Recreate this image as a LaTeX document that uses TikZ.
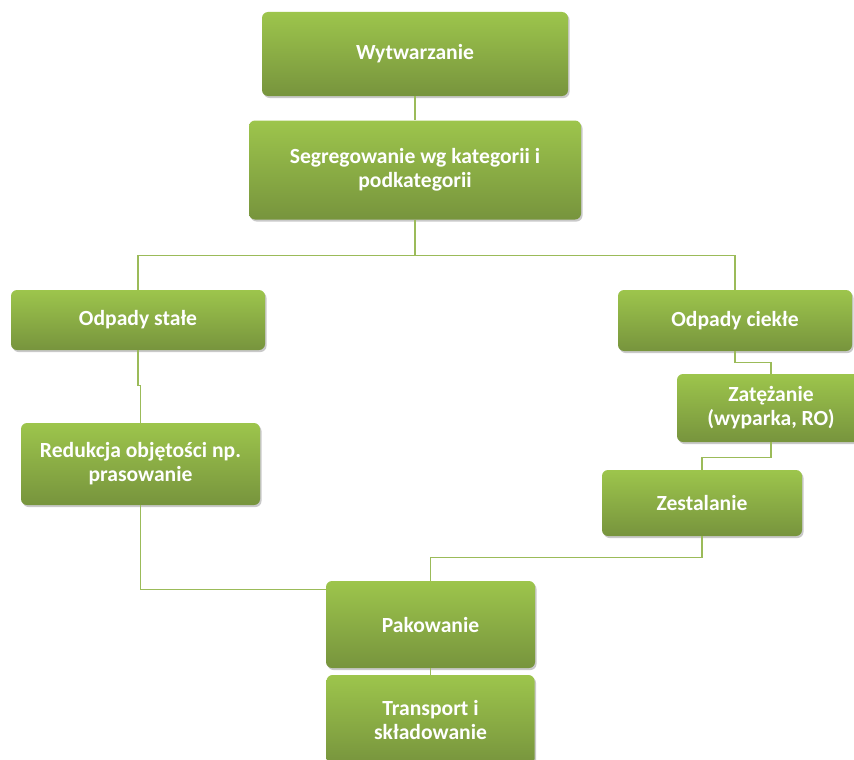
\documentclass[tikz,border=0pt]{standalone}
\usepackage{fontspec}
\setmainfont{Carlito}
\usetikzlibrary{shadows,calc}
\definecolor{boxtop}{HTML}{9DC54C}
\definecolor{boxbot}{HTML}{77943D}
\definecolor{linecol}{HTML}{9BBB59}
\tikzset{
  box/.style={rectangle, rounded corners=6pt, top color=boxtop, bottom color=boxbot,
    draw=none, text=white, align=center, inner sep=2pt,
    font=\fontsize{21.6}{24}\selectfont\bfseries,
    drop shadow={shadow xshift=1.5pt, shadow yshift=-2pt, opacity=0.35, fill=black!60}},
  conn/.style={draw=linecol, line width=1.3pt}
}
\begin{document}
\begin{tikzpicture}[x=1pt,y=-1pt]
\useasboundingbox (0,0) rectangle (854,760);
\fill[white] (0,0) rectangle (854,760);
\node[box, minimum width=306pt, minimum height=84pt] (w) at (415,54) {Wytwarzanie};
\node[box, minimum width=332pt, minimum height=99pt] (s) at (415,170) {Segregowanie wg kategorii i\\podkategorii};
\node[box, minimum width=254pt, minimum height=60pt] (os) at (138,320) {Odpady stałe};
\node[box, minimum width=234pt, minimum height=61pt] (oc) at (735,320.5) {Odpady ciekłe};
\node[box, minimum width=188pt, minimum height=68pt] (z) at (771,408) {Zatężanie\\(wyparka, RO)};
\node[box, minimum width=239pt, minimum height=82pt] (r) at (140.5,464) {Redukcja objętości np.\\prasowanie};
\node[box, minimum width=200pt, minimum height=66pt] (ze) at (702,503) {Zestalanie};
\node[box, minimum width=209pt, minimum height=87pt] (p) at (430.5,624.5) {Pakowanie};
\node[box, minimum width=208pt, minimum height=90pt] (t) at (430.5,720) {Transport i\\składowanie};
\draw[conn] (w.south) -- (s.north);
\draw[conn] (s.south) -- ++(0,36) -| (os.north);
\draw[conn] (s.south) -- ++(0,36) -| (oc.north);
\draw[conn] (os.south) -- ++(0,35) -| (r.north);
\draw[conn] (oc.south) -- ++(0,11) -| (z.north);
\draw[conn] (z.south) -- ++(0,15) -| (ze.north);
\draw[conn] (ze.south) -- ++(0,21) -| (p.north);
\draw[conn] (r.south) |- ($(p.north west)+(0,9)$);
\draw[conn] (p.south) -- (t.north);
\end{tikzpicture}
\end{document}
